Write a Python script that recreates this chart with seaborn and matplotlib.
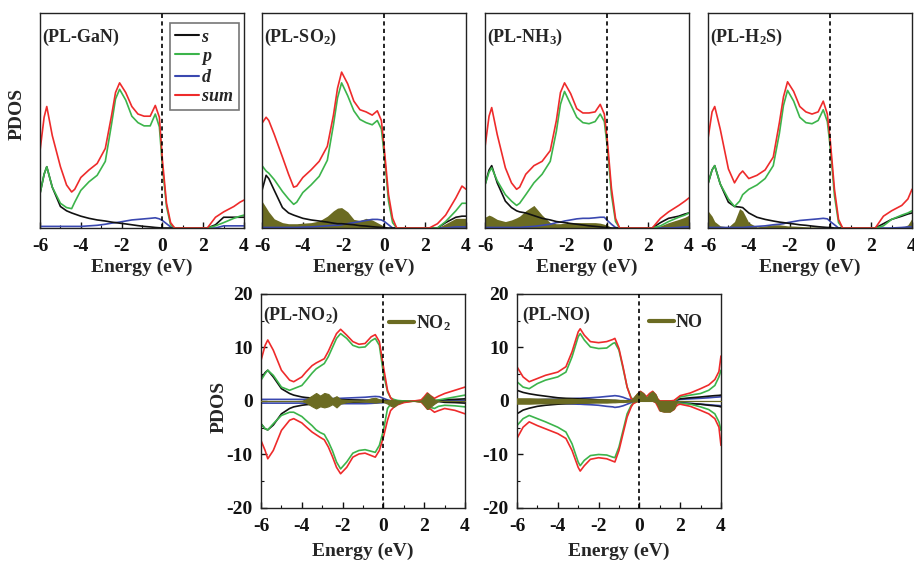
import pandas as pd
import matplotlib.pyplot as plt
from matplotlib.lines import Line2D
from matplotlib.ticker import MultipleLocator
import seaborn as sns

# ---- data ----
energy_top = [-6.0, -5.8, -5.67, -5.4, -5.0, -4.7, -4.45, -4.3, -4.0, -3.6, -3.2, -2.8, -2.5, -2.3, -2.1,
              -1.8, -1.5, -1.2, -0.9, -0.6, -0.35, -0.15, 0.0, 0.2, 0.4, 0.6, 1.0, 2.2, 2.6, 3.0, 3.5, 3.8, 4.0]

gan_s = [3.2, 5.0, 5.7, 3.8, 2.0, 1.6, 1.4, 1.3, 1.1, 0.9, 0.75, 0.65, 0.55, 0.5, 0.45, 0.38, 0.3, 0.22, 0.15,
         0.1, 0.05, 0.02, 0.0, 0.0, 0.0, 0.0, 0.0, 0.0, 0.3, 1.0, 1.0, 1.0, 1.0]
gan_p = [3.2, 5.0, 5.7, 3.8, 2.3, 1.9, 1.8, 2.4, 3.5, 4.3, 4.9, 6.2, 9.6, 12.0, 12.9, 11.9, 10.4, 9.8, 9.5,
         9.5, 10.6, 9.4, 5.7, 2.0, 0.3, 0.0, 0.0, 0.0, 0.2, 0.5, 0.9, 1.1, 1.2]
gan_d = [0.15, 0.15, 0.15, 0.15, 0.15, 0.15, 0.15, 0.15, 0.15, 0.2, 0.25, 0.35, 0.45, 0.5, 0.55, 0.65, 0.75,
         0.8, 0.85, 0.9, 0.95, 0.85, 0.7, 0.4, 0.1, 0.0, 0.0, 0.0, 0.0, 0.2, 0.2, 0.2, 0.2]
gan_sum = [7.2, 10.3, 11.3, 8.6, 5.7, 4.0, 3.35, 3.6, 4.7, 5.4, 6.0, 7.4, 10.4, 12.6, 13.5, 12.6, 11.3, 10.6,
           10.4, 10.4, 11.4, 10.3, 6.3, 2.3, 0.5, 0.0, 0.0, 0.0, 1.0, 1.5, 2.0, 2.4, 2.6]

so2_s = [3.5, 4.9, 4.6, 3.5, 1.9, 1.4, 1.2, 1.1, 0.9, 0.75, 0.65, 0.55, 0.45, 0.4, 0.4, 0.35, 0.3, 0.22, 0.18,
         0.12, 0.08, 0.05, 0.03, 0.0, 0.0, 0.0, 0.0, 0.0, 0.0, 0.5, 1.0, 1.1, 1.1]
so2_p = [5.8, 5.3, 5.1, 4.5, 3.4, 2.7, 2.2, 2.4, 3.3, 4.0, 4.8, 6.3, 9.6, 12.1, 13.5, 12.3, 10.9, 10.1, 9.8,
         9.6, 10.0, 9.2, 6.6, 2.5, 0.5, 0.0, 0.0, 0.0, 0.0, 0.6, 1.6, 2.3, 2.3]
so2_d = [0.05, 0.05, 0.05, 0.05, 0.05, 0.05, 0.05, 0.05, 0.08, 0.1, 0.15, 0.2, 0.25, 0.25, 0.3, 0.4, 0.5,
         0.6, 0.7, 0.8, 0.8, 0.75, 0.6, 0.3, 0.0, 0.0, 0.0, 0.0, 0.0, 0.0, 0.1, 0.1, 0.1]
so2_sum = [9.75, 10.3, 10.0, 8.7, 6.6, 5.0, 3.8, 3.9, 4.7, 5.4, 6.2, 7.6, 10.5, 13.0, 14.5, 13.4, 11.8, 11.0,
           10.8, 10.5, 10.9, 10.0, 7.2, 3.1, 0.9, 0.0, 0.0, 0.0, 0.4, 1.2, 2.8, 3.9, 3.6]
so2_gas = [2.5, 1.9, 1.5, 0.85, 0.5, 0.4, 0.4, 0.4, 0.45, 0.5, 0.65, 1.1, 1.6, 1.85, 1.9, 1.5, 0.8, 0.7, 0.9,
           0.75, 0.5, 0.3, 0.1, 0.0, 0.0, 0.0, 0.0, 0.0, 0.0, 0.4, 0.9, 0.9, 0.9]

nh3_s = [4.0, 5.4, 5.8, 4.2, 2.5, 1.9, 1.6, 1.5, 1.4, 1.15, 0.9, 0.75, 0.6, 0.55, 0.5, 0.42, 0.35, 0.28, 0.2,
         0.15, 0.1, 0.06, 0.05, 0.0, 0.0, 0.0, 0.0, 0.0, 0.5, 0.9, 1.1, 1.3, 1.4]
nh3_p = [4.0, 5.2, 5.6, 4.4, 3.1, 2.5, 2.1, 2.3, 3.1, 4.2, 5.0, 6.2, 9.0, 11.5, 12.7, 11.5, 10.3, 9.8, 9.7,
         9.9, 10.6, 9.9, 7.5, 3.1, 0.6, 0.0, 0.0, 0.0, 0.2, 0.6, 1.0, 1.2, 1.4]
nh3_d = [0.05, 0.05, 0.05, 0.05, 0.05, 0.05, 0.05, 0.05, 0.1, 0.15, 0.25, 0.35, 0.5, 0.55, 0.65, 0.75, 0.85,
         0.9, 0.9, 0.95, 1.0, 1.0, 0.7, 0.35, 0.05, 0.0, 0.0, 0.0, 0.0, 0.0, 0.05, 0.1, 0.1]
nh3_sum = [7.5, 10.4, 11.2, 8.7, 5.6, 4.2, 3.6, 3.8, 5.0, 5.8, 6.2, 7.2, 10.0, 12.6, 13.5, 12.5, 11.1, 10.7,
           10.7, 10.8, 11.5, 10.6, 8.1, 3.7, 0.9, 0.0, 0.0, 0.0, 0.9, 1.5, 2.1, 2.5, 2.8]
nh3_gas = [1.0, 1.2, 1.1, 0.8, 0.6, 0.75, 0.95, 1.1, 1.6, 2.1, 1.2, 0.5, 0.4, 0.4, 0.45, 0.5, 0.5, 0.5, 0.5,
           0.5, 0.45, 0.35, 0.25, 0.05, 0.0, 0.0, 0.0, 0.0, 0.2, 0.5, 0.8, 1.0, 1.2]

h2s_s = [4.1, 5.4, 5.8, 4.1, 2.4, 2.0, 1.95, 1.9, 1.4, 1.0, 0.8, 0.65, 0.55, 0.5, 0.45, 0.38, 0.3, 0.25, 0.18,
         0.12, 0.08, 0.05, 0.05, 0.0, 0.0, 0.0, 0.0, 0.0, 0.4, 0.8, 1.1, 1.3, 1.4]
h2s_p = [4.1, 5.4, 5.8, 4.1, 2.7, 2.0, 2.5, 3.1, 3.6, 4.0, 4.6, 5.8, 8.8, 11.4, 12.8, 11.8, 10.3, 9.8, 9.7,
         10.0, 11.0, 9.9, 7.4, 3.0, 0.5, 0.0, 0.0, 0.0, 0.2, 0.8, 1.2, 1.4, 1.6]
h2s_d = [0.05, 0.05, 0.05, 0.05, 0.05, 0.05, 0.05, 0.05, 0.1, 0.15, 0.2, 0.3, 0.35, 0.4, 0.5, 0.6, 0.7, 0.75,
         0.8, 0.85, 0.9, 0.85, 0.6, 0.3, 0.0, 0.0, 0.0, 0.0, 0.0, 0.0, 0.05, 0.1, 0.1]
h2s_sum = [8.3, 10.8, 11.3, 9.2, 5.5, 4.2, 5.0, 5.3, 4.6, 4.9, 5.4, 6.6, 9.8, 12.2, 13.6, 12.7, 11.3, 10.8,
           10.6, 10.8, 11.8, 10.6, 8.0, 3.6, 0.8, 0.0, 0.0, 0.0, 1.1, 1.6, 2.1, 2.7, 3.6]
h2s_gas = [1.6, 1.1, 0.6, 0.2, 0.1, 0.6, 1.8, 1.6, 0.5, 0.1, 0.2, 0.3, 0.3, 0.25, 0.2, 0.18, 0.15, 0.12, 0.1,
           0.1, 0.08, 0.08, 0.05, 0.0, 0.0, 0.0, 0.0, 0.0, 0.0, 0.0, 0.0, 0.3, 0.9]

energy_no2 = [-6.0, -5.8, -5.67, -5.4, -5.0, -4.6, -4.4, -4.0, -3.8, -3.5, -3.3, -3.1, -2.9, -2.7, -2.5, -2.3,
              -2.1, -1.8, -1.5, -1.2, -0.9, -0.6, -0.4, -0.2, 0.0, 0.2, 0.35, 0.5, 0.7, 1.0, 1.5, 1.85, 2.0,
              2.15, 2.3, 2.5, 2.7, 3.0, 3.5, 4.0]
no2_s_up = [4.2, 5.3, 5.75, 4.5, 2.3, 1.4, 1.1, 0.75, 0.65, 0.55, 0.5, 0.45, 0.4, 0.35, 0.3, 0.28, 0.25, 0.22,
            0.2, 0.18, 0.15, 0.12, 0.1, 0.1, 0.1, 0.05, 0.0, 0.0, 0.0, 0.0, 0.0, 0.0, 0.0, 0.0, 0.0, 0.0, 0.1,
            0.25, 0.3, 0.4]
no2_s_dn = [-4.25, -5.2, -5.4, -4.5, -2.4, -1.4, -1.1, -0.8, -0.7, -0.6, -0.55, -0.5, -0.45, -0.4, -0.35, -0.3,
            -0.3, -0.25, -0.22, -0.2, -0.15, -0.12, -0.1, -0.1, -0.1, -0.05, 0.0, 0.0, 0.0, 0.0, 0.0, 0.0, 0.0,
            0.0, 0.0, 0.0, -0.1, -0.25, -0.3, -0.4]
no2_p_up = [3.9, 5.1, 5.75, 4.8, 2.6, 2.0, 2.3, 2.9, 3.8, 5.2, 6.0, 6.5, 7.0, 8.3, 10.0, 11.7, 12.6, 11.7, 10.4,
            10.0, 10.1, 11.25, 11.7, 10.4, 5.1, 1.7, 0.6, 0.3, 0.1, 0.0, 0.0, 0.05, 0.1, 0.1, 0.1, 0.1, 0.2,
            0.4, 0.75, 1.1]
no2_p_dn = [-4.25, -5.2, -5.4, -4.25, -2.7, -2.1, -2.1, -2.9, -3.6, -4.6, -5.4, -5.9, -6.25, -7.6, -9.3, -11.4,
            -12.7, -11.4, -9.75, -9.25, -9.1, -9.4, -9.6, -8.3, -5.5, -1.4, -0.6, -0.4, -0.2, -0.1, 0.0, -0.2,
            -0.4, -0.8, -1.2, -1.4, -1.0, -0.8, -0.9, -1.1]
no2_d_up = [0.3, 0.3, 0.3, 0.3, 0.3, 0.3, 0.3, 0.3, 0.32, 0.35, 0.37, 0.4, 0.4, 0.42, 0.45, 0.48, 0.5, 0.55,
            0.6, 0.65, 0.7, 0.8, 0.85, 0.8, 0.5, 0.2, 0.05, 0.0, 0.0, 0.0, 0.0, 0.0, 0.0, 0.0, 0.0, 0.0, 0.0,
            0.05, 0.08, 0.1]
no2_d_dn = [-0.4, -0.4, -0.4, -0.4, -0.4, -0.4, -0.4, -0.4, -0.42, -0.45, -0.47, -0.5, -0.5, -0.5, -0.5, -0.5,
            -0.5, -0.5, -0.5, -0.5, -0.5, -0.45, -0.4, -0.35, -0.3, -0.15, -0.05, 0.0, 0.0, 0.0, 0.0, 0.0, 0.0,
            0.0, 0.0, 0.0, 0.0, -0.05, -0.08, -0.1]
no2_sum_up = [7.6, 10.4, 11.4, 9.5, 5.75, 3.9, 3.6, 4.5, 5.4, 6.6, 7.1, 7.5, 7.9, 9.3, 11.0, 12.6, 13.4, 12.3,
              11.1, 10.6, 10.75, 12.0, 12.4, 11.1, 6.4, 2.0, 0.6, 0.0, -0.6, -0.2, 0.0, 0.2, 0.8, 1.5, 1.0,
              0.5, 0.9, 1.4, 2.0, 2.6]
no2_sum_dn = [-7.4, -9.25, -10.8, -9.25, -5.5, -3.6, -3.3, -4.1, -4.8, -5.8, -6.3, -6.8, -7.25, -8.6, -10.4,
              -12.4, -13.6, -12.4, -10.5, -9.9, -9.75, -10.2, -10.5, -9.25, -6.75, -3.6, -1.8, -1.2, -0.7,
              -0.3, 0.0, -0.2, -0.8, -1.5, -1.5, -2.1, -1.8, -1.4, -1.75, -2.4]
no2_gas_up = [0.0, 0.0, 0.0, 0.0, 0.0, 0.0, 0.0, 0.05, 0.3, 1.0, 1.5, 1.0, 1.5, 1.3, 0.5, 0.9, 0.3, 0.2, 0.1,
              0.1, 0.15, 0.5, 0.6, 0.3, 0.1, 0.15, 0.2, 0.2, 0.1, 0.0, 0.0, 0.1, 0.8, 1.5, 1.0, 0.3, 0.0, 0.0,
              0.0, 0.0]
no2_gas_dn = [0.0, 0.0, 0.0, 0.0, 0.0, 0.0, 0.0, -0.05, -0.3, -1.0, -1.4, -1.0, -1.2, -1.0, -0.6, -1.2, -0.5,
              -0.2, -0.1, -0.1, -0.1, -0.2, -0.3, -0.2, -0.2, -0.5, -0.9, -1.1, -0.5, 0.0, 0.0, -0.1, -0.8,
              -1.5, -1.1, -0.5, 0.0, 0.0, 0.0, 0.0]

energy_no = [-6.0, -5.7, -5.4, -5.0, -4.6, -4.0, -3.6, -3.3, -3.0, -2.9, -2.7, -2.4, -2.0, -1.6, -1.3, -1.2,
             -1.0, -0.8, -0.6, -0.4, -0.3, -0.1, 0.05, 0.2, 0.35, 0.5, 0.65, 0.8, 0.9, 1.0, 1.2, 1.5, 1.7,
             1.8, 1.9, 2.0, 2.5, 3.0, 3.4, 3.7, 3.9, 4.0]
no_s_up = [2.0, 1.6, 1.35, 1.1, 0.9, 0.6, 0.5, 0.45, 0.4, 0.38, 0.35, 0.3, 0.2, 0.15, 0.1, 0.1, 0.05,
           0.0, 0.0, 0.0, 0.0, 0.0, 0.0, 0.0, 0.0, 0.0, 0.0, 0.0, 0.0, 0.0, 0.0, 0.0, 0.0,
           0.2, 0.3, 0.4, 0.6, 0.75, 0.9, 1.0, 1.05, 1.1]
no_s_dn = [-2.4, -1.7, -1.35, -1.0, -0.8, -0.6, -0.5, -0.45, -0.4, -0.38, -0.35, -0.3, -0.2, -0.15, -0.1, -0.1,
           -0.05, 0.0, 0.0, 0.0, 0.0, 0.0, 0.0, 0.0, 0.0, 0.0, 0.0, 0.0, 0.0, 0.0, 0.0, 0.0, 0.0,
           -0.2, -0.3, -0.4, -0.5, -0.6, -0.8, -0.9, -1.0, -1.1]
no_p_up = [3.6, 2.6, 2.3, 3.25, 3.9, 4.5, 5.4, 8.25, 12.0, 12.6, 11.4, 10.1, 9.8, 9.9, 10.75, 10.9, 9.5, 6.1,
           2.6, 0.6, 0.3, 0.1, 0.05, 0.0, 0.0, 0.0, 0.0, 0.0, 0.0, 0.0, 0.0, 0.0, 0.0, 0.2, 0.5, 0.75, 1.1,
           1.4, 2.0, 2.9, 4.5, 5.75]
no_p_dn = [-4.6, -3.3, -2.7, -3.3, -3.9, -4.9, -5.8, -8.0, -11.4, -12.1, -11.1, -10.2, -10.0, -10.1, -10.5,
           -10.6, -8.6, -5.5, -2.4, -0.8, -0.4, -0.1, 0.0, 0.0, 0.0, 0.0, 0.0, 0.0, 0.0, 0.0, 0.0, 0.0, 0.0,
           -0.2, -0.3, -0.4, -0.6, -1.1, -1.6, -2.4, -3.9, -5.5]
no_d_up = [0.2, 0.2, 0.22, 0.25, 0.3, 0.35, 0.4, 0.45, 0.5, 0.5, 0.55, 0.6, 0.7, 0.85, 0.95, 1.0, 0.9, 0.7,
           0.4, 0.2, 0.1, 0.0, 0.0, 0.0, 0.0, 0.0, 0.0, 0.0, 0.0, 0.0, 0.0, 0.0, 0.0, 0.1, 0.2, 0.3, 0.4, 0.5,
           0.6, 0.7, 0.75, 0.8]
no_d_dn = [-0.3, -0.3, -0.3, -0.35, -0.4, -0.45, -0.5, -0.55, -0.6, -0.6, -0.65, -0.7, -0.8, -1.0, -1.1, -1.2,
           -1.1, -0.9, -0.6, -0.3, -0.15, 0.0, 0.0, 0.0, 0.0, 0.0, 0.0, 0.0, 0.0, 0.0, 0.0, 0.0, 0.0, -0.1,
           -0.2, -0.3, -0.45, -0.6, -0.7, -0.8, -0.85, -0.9]
no_sum_up = [6.4, 4.5, 3.6, 4.2, 4.8, 5.4, 6.4, 9.2, 12.9, 13.5, 12.3, 11.1, 10.9, 11.1, 11.5, 11.7, 9.8, 6.4,
             2.6, 0.4, 0.3, 1.2, 1.8, 1.4, 0.8, 1.4, 1.8, 1.2, 0.4, 0.0, 0.0, 0.0, 0.1, 0.4, 0.7, 1.0, 1.5,
             2.3, 3.0, 4.0, 5.5, 8.4]
no_sum_dn = [-7.0, -4.9, -3.9, -4.6, -5.2, -6.1, -7.0, -9.25, -12.4, -13.1, -12.1, -10.9, -10.6, -10.8,
             -11.25, -11.4, -9.25, -6.1, -3.0, -1.1, -0.5, -0.1, 0.0, 0.0, 0.0, 0.0, 0.0, -0.3, -1.0, -1.8,
             -2.0, -2.0, -1.6, -1.0, -0.7, -0.6, -1.0, -1.75, -2.4, -3.3, -4.9, -8.3]
no_gas_up = [0.5, 0.5, 0.5, 0.45, 0.45, 0.4, 0.4, 0.4, 0.35, 0.35, 0.35, 0.3, 0.3, 0.3, 0.25, 0.25, 0.2, 0.2,
             0.15, 0.2, 0.6, 1.5, 1.8, 1.4, 0.6, 1.4, 1.8, 1.2, 0.3, 0.0, 0.0, 0.0, 0.0, 0.0, 0.0, 0.0, 0.0,
             0.0, 0.0, 0.0, 0.0, 0.0]
no_gas_dn = [-0.5, -0.5, -0.5, -0.45, -0.45, -0.4, -0.4, -0.4, -0.35, -0.35, -0.35, -0.3, -0.3, -0.3, -0.25,
             -0.25, -0.2, -0.2, -0.15, -0.1, -0.1, -0.05, 0.0, 0.0, 0.0, 0.0, 0.0, -0.2, -0.8, -1.8, -2.0,
             -2.0, -1.4, -0.5, 0.0, 0.0, 0.0, 0.0, 0.0, 0.0, 0.0, 0.0]

x_ticks = [-6, -4, -2, 0, 2, 4]
y_ticks = [-20, -10, 0, 10, 20]

# ---- style ----
sns.set_theme(style='ticks')
plt.rcParams['font.family'] = ['Liberation Serif', 'DejaVu Serif']
plt.rcParams['font.weight'] = 'bold'
plt.rcParams['axes.unicode_minus'] = False
plt.rcParams['mathtext.fontset'] = 'custom'
plt.rcParams['mathtext.rm'] = 'Liberation Serif:bold'
plt.rcParams['mathtext.bf'] = 'Liberation Serif:bold'
plt.rcParams['mathtext.it'] = 'Liberation Serif:bold:italic'

colors = {'s': '#111111', 'p': '#3cb44b', 'd': '#3a48b0', 'sum': '#ee2b2b'}
gas_color = '#6b6b22'
orbital_order = ['d', 's', 'p', 'sum']


def make_frame(energy, spin_curves):
    rows = []
    for (orb, spin), values in spin_curves.items():
        rows.append(pd.DataFrame({'energy': energy, 'pdos': values, 'orbital': orb, 'spin': spin}))
    return pd.concat(rows, ignore_index=True)


def style_axes(ax):
    for sp in ax.spines.values():
        sp.set_color('#222222')
        sp.set_linewidth(1.0)
    ax.set_xlim(-6, 4)
    ax.set_xticks(x_ticks)
    ax.xaxis.set_minor_locator(MultipleLocator(1))
    ax.tick_params(axis='both', which='both', direction='in', labelsize=14, colors='#111111')
    ax.tick_params(which='major', length=4, width=1)
    ax.tick_params(which='minor', length=2.5, width=0.8)
    ax.axvline(0, color='black', ls=(0, (2.5, 2)), lw=1.2, zorder=4)
    ax.set_xlabel('Energy (eV)', fontsize=14, fontweight='bold')
    ax.grid(False)


fig = plt.figure(figsize=(9.14, 5.62), dpi=100)

# ---- top row ----
top_panels = [
    ('(PL-GaN)', gan_s, gan_p, gan_d, gan_sum, None, 0.0438),
    ('(PL-SO$_\\mathbf{2}$)', so2_s, so2_p, so2_d, so2_sum, so2_gas, 0.2867),
    ('(PL-NH$_\\mathbf{3}$)', nh3_s, nh3_p, nh3_d, nh3_sum, nh3_gas, 0.5306),
    ('(PL-H$_\\mathbf{2}$S)', h2s_s, h2s_p, h2s_d, h2s_sum, h2s_gas, 0.7746),
]
for i, (label, s, p, d, tot, gas, left) in enumerate(top_panels):
    ax = fig.add_axes([left, 0.5943, 0.2232, 0.3826])
    if gas is not None:
        ax.fill_between(energy_top, 0, gas, color=gas_color, lw=0, zorder=1)
    df = make_frame(energy_top, {('s', 'up'): s, ('p', 'up'): p, ('d', 'up'): d, ('sum', 'up'): tot})
    sns.lineplot(data=df, x='energy', y='pdos', hue='orbital', hue_order=orbital_order, palette=colors,
                 units='spin', estimator=None, sort=False, lw=1.2, legend=False, ax=ax, zorder=2)
    style_axes(ax)
    ax.set_ylim(0, 20)
    ax.set_yticks([])
    ax.set_ylabel('')
    ax.xaxis.set_label_coords(0.5, -0.145)
    ax.tick_params(axis='x', pad=7)
    ax.text(0.01, 0.885, label, transform=ax.transAxes, fontsize=13, fontweight='bold',
            va='center', ha='left', zorder=5)
    if i == 0:
        ax.set_ylabel('PDOS', fontsize=14, fontweight='bold')
        ax.yaxis.set_label_coords(-0.069, 0.53)
        handles = [Line2D([0], [0], color=colors[k], lw=1.5) for k in ['s', 'p', 'd', 'sum']]
        leg = ax.legend(handles, ['$\\mathit{s}$', '$\\mathit{p}$', '$\\mathit{d}$', '$\\mathit{sum}$'],
                        loc='upper right', bbox_to_anchor=(0.975, 0.953), borderaxespad=0,
                        fontsize=13, handlelength=1.3, handletextpad=0.15, labelspacing=0.12,
                        borderpad=0.3, frameon=True, fancybox=False, edgecolor='#555555')
        leg.get_frame().set_linewidth(1.2)

# ---- bottom row ----
bottom_panels = [
    ('(PL-NO$_\\mathbf{2}$)', 'NO$_\\mathbf{2}$', energy_no2,
     (no2_s_up, no2_s_dn, no2_p_up, no2_p_dn, no2_d_up, no2_d_dn, no2_sum_up, no2_sum_dn),
     no2_gas_up, no2_gas_dn, 0.2856, 0.01, 0.625, True),
    ('(PL-NO)', 'NO', energy_no,
     (no_s_up, no_s_dn, no_p_up, no_p_dn, no_d_up, no_d_dn, no_sum_up, no_sum_dn),
     no_gas_up, no_gas_dn, 0.5656, 0.025, 0.645, False),
]
for label, gas_label, energy, curves, gas_up, gas_dn, left, lab_x, leg_x, show_ylabel in bottom_panels:
    ax = fig.add_axes([left, 0.0961, 0.2232, 0.3808])
    s_up, s_dn, p_up, p_dn, d_up, d_dn, t_up, t_dn = curves
    df = make_frame(energy, {('s', 'up'): s_up, ('s', 'dn'): s_dn, ('p', 'up'): p_up, ('p', 'dn'): p_dn,
                             ('d', 'up'): d_up, ('d', 'dn'): d_dn, ('sum', 'up'): t_up, ('sum', 'dn'): t_dn})
    sns.lineplot(data=df, x='energy', y='pdos', hue='orbital', hue_order=orbital_order, palette=colors,
                 units='spin', estimator=None, sort=False, lw=1.2, legend=False, ax=ax, zorder=2)
    ax.fill_between(energy, gas_dn, gas_up, color=gas_color, lw=0.8, edgecolor=gas_color, zorder=3)
    style_axes(ax)
    ax.set_ylim(-20, 20)
    ax.set_yticks(y_ticks)
    ax.yaxis.set_minor_locator(MultipleLocator(5))
    ax.tick_params(axis='x', pad=7)
    ax.tick_params(axis='y', pad=6)
    ax.tick_params(right=False, top=False)
    ax.xaxis.set_label_coords(0.5, -0.16)
    if show_ylabel:
        ax.set_ylabel('PDOS', fontsize=14, fontweight='bold')
        ax.yaxis.set_label_coords(-0.163, 0.47)
    else:
        ax.set_ylabel('')
    ax.text(lab_x, 0.9, label, transform=ax.transAxes, fontsize=13, fontweight='bold',
            va='center', ha='left', zorder=5)
    handle = [Line2D([0], [0], color=gas_color, lw=3)]
    ax.legend(handle, [gas_label], loc='center left', bbox_to_anchor=(leg_x, 0.865), borderaxespad=0,
              borderpad=0, frameon=False, fontsize=13, handlelength=1.4, handletextpad=0.1)

fig.savefig('out.png', dpi=100)
